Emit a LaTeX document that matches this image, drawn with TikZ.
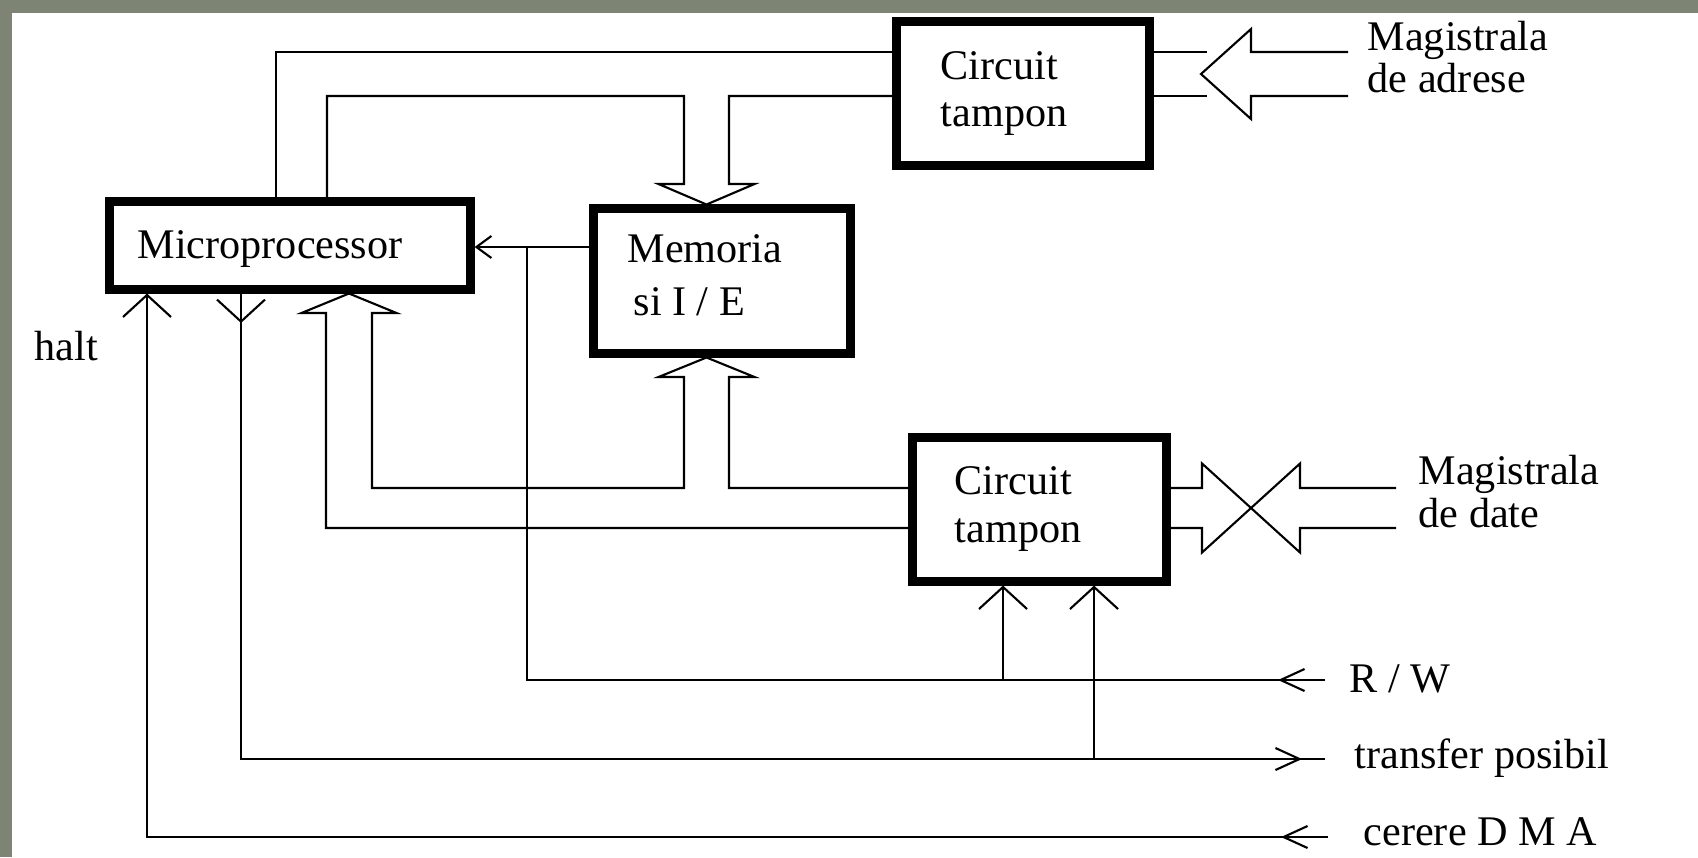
\documentclass[tikz,border=0pt]{standalone}
\usepackage{fontspec}
\setmainfont{Liberation Serif}
\usetikzlibrary{arrows.meta, calc}
\definecolor{SlideGrey}{RGB}{126,132,116}

\tikzset{
  blok/.style={draw, line width=0.09cm, inner sep=0pt},
  sig/.style={line width=0.6pt},
  lbl/.style={inner sep=0pt, anchor=base west, align=left, font=\fontsize{12}{13}\selectfont},
  barbS/.tip={Straight Barb[length=1.5mm, width=2.2mm]},
  barbE/.tip={Straight Barb[length=2.4mm, width=2.2mm]},
  barbV/.tip={Straight Barb[length=2.2mm, width=4.8mm]},
}

\begin{document}
\begin{tikzpicture}[x=0.01cm, y=-0.01cm]
    % Slide background
    \fill[SlideGrey] (0,0) rectangle (1698,857);
    \fill[white] (12,13) rectangle (1698,857);
    \useasboundingbox (0,0) rectangle (1698,857);

    % Blocks
    \node[blok, minimum width=3.6cm, minimum height=0.87cm] (micro) at (290,245.5) {};
    \node[blok, minimum width=2.52cm, minimum height=1.43cm] (tampA) at (1023,93.5) {};
    \node[blok, minimum width=2.56cm, minimum height=1.44cm] (mem) at (722,281) {};
    \node[blok, minimum width=2.53cm, minimum height=1.43cm] (tampD) at (1039.5,509.5) {};

    % Labels (base = last line)
    \node[lbl] (microTxt) at (137,258) {Microprocessor};
    \node[lbl, font=\fontsize{12}{13.1}\selectfont] (tampATxt) at (940,126) {Circuit\\tampon};
    \node[lbl, font=\fontsize{12}{14.8}\selectfont] (memTxt) at (627,315) {Memoria\\\hspace*{0.06cm}si I / E};
    \node[lbl, font=\fontsize{12}{13.4}\selectfont] (tampDTxt) at (954,542) {Circuit\\tampon};
    \node[lbl, font=\fontsize{12}{12}\selectfont] (adrTxt) at (1367,92.5) {Magistrala\\de adrese};
    \node[lbl, font=\fontsize{12}{12}\selectfont] (datTxt) at (1418,527) {Magistrala\\de date};
    \node[lbl] (rwTxt) at (1349,692) {R / W};
    \node[lbl] (trTxt) at (1354,768) {transfer posibil};
    \node[lbl] (dmaTxt) at (1363,845) {cerere D M A};
    \node[lbl] (haltTxt) at (34,360) {halt};

    % Corner points
    \coordinate (adrA) at (276,52);
    \coordinate (adrB) at (327,96);
    \coordinate (mTop) at (706.5,204.5);
    \coordinate (mBot) at (706.5,357.5);
    \coordinate (pTip) at (349,293.5);
    \coordinate (dLo) at (326,528);
    \coordinate (dHi) at (372,488);
    \coordinate (adrTip) at (1201,74);
    \coordinate (datX) at (1251,508);
    \coordinate (rwJ) at (527,247);
    \coordinate (rwEnd) at (1325,680);
    \coordinate (rwTip) at (1278,680);
    \coordinate (rwBr) at (1003,680);
    \coordinate (trC) at (241,759);
    \coordinate (trArr) at (241,323);
    \coordinate (trBr) at (1094,759);
    \coordinate (trTip) at (1302,759);
    \coordinate (trEnd) at (1325,759);
    \coordinate (dmaC) at (147,837);
    \coordinate (dmaEnd) at (1328,837);
    \coordinate (dmaTip) at (1281,837);

    % Address lines
    \draw[sig] (micro.north -| adrA) -- (adrA) -- (adrA -| tampA.west);
    \draw[sig] (micro.north -| adrB) -- (adrB) -- ($(adrB)+(357,0)$) -- ++(0,88) -- ++(-25.5,0)
        -- (mTop) -- ++(48,-20.5) -- ++(-25.5,0) -- ++(0,-88) -- (adrB -| tampA.west);

    % Address bus
    \draw[sig] (adrA -| tampA.east) -- ++(53,0);
    \draw[sig] (adrB -| tampA.east) -- ++(53,0);
    \draw[sig] ($(adrTip)+(147,-22)$) -- ++(-97,0) -- ++(0,-23) -- (adrTip) -- ++(50,45) -- ++(0,-23) -- ++(97,0);

    % Memory to microprocessor, R/W
    \draw[sig, -{barbS}] (rwJ -| mem.west) -- (rwJ -| micro.east);
    \draw[sig] (rwJ) |- (rwEnd);
    \draw[sig, -{barbE}] (rwEnd) -- (rwTip);
    \draw[sig, -{barbV}] (rwBr) -- (rwBr |- tampD.south);

    % transfer posibil
    \draw[sig] (micro.south -| trC) -- (trC) -- (trEnd);
    \draw[sig, -{barbV}] (micro.south -| trC) -- (trArr);
    \draw[sig, -{barbE}] (trBr) -- (trTip);
    \draw[sig, -{barbV}] (trBr) -- (trBr |- tampD.south);

    % cerere DMA
    \draw[sig, -{barbV}] (dmaEnd) -- (dmaC) -- (dmaC |- micro.south);
    \draw[sig, -{barbE}] (dmaEnd) -- (dmaTip);

    % Data bus
    \draw[sig] (dLo -| tampD.west) -- (dLo) -- ++(0,-215) -- ++(-24.5,0) -- (pTip) -- ++(47.5,19.5)
        -- ++(-24.5,0) -- (dHi) -- ++(312,0) -- ++(0,-111) -- ++(-25.5,0) -- (mBot) -- ++(48,19.5)
        -- ++(-25.5,0) -- ++(0,111) -- (dHi -| tampD.west);
    \draw[sig] (dHi -| tampD.east) -- ($(datX)+(-49,-20)$) -- ++(0,-24.5) -- ++(98,89) -- ++(0,-24.5) -- ++(96,0);
    \draw[sig] (dLo -| tampD.east) -- ($(datX)+(-49,20)$) -- ++(0,24.5) -- ++(98,-89) -- ++(0,24.5) -- ++(96,0);
\end{tikzpicture}
\end{document}
